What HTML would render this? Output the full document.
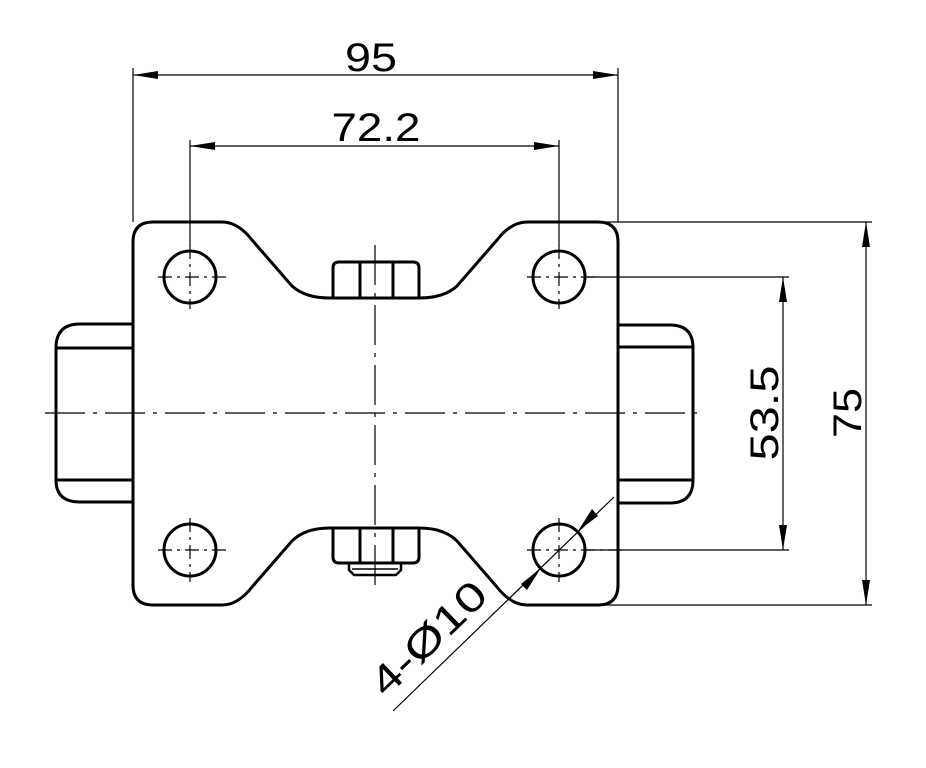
<!DOCTYPE html>
<html><head><meta charset="utf-8"><style>html,body{margin:0;padding:0;background:#fff}svg{display:block}</style></head>
<body>
<svg width="926" height="768" viewBox="0 0 926 768" xmlns="http://www.w3.org/2000/svg">
<g fill="none" stroke="#000" stroke-width="3" stroke-linejoin="round">
<!-- plate -->
<path d="M133,242 Q133,222 153,222 L222,222 Q238,222 252,240 L292,286 Q305,298 330,298 L419,298 Q444,298 457,286 L497,240 Q511,222 527,222 L598,222 Q618,222 618,242 L618,585 Q618,605 598,605 L527,605 Q511,605 497,587 L457,541 Q444,528 419,528 L330,528 Q305,528 292,541 L252,587 Q238,605 222,605 L153,605 Q133,605 133,585 Z"/>
<!-- top nut -->
<path d="M333,298 L333,268 Q333,262 339,262 L413,262 Q419,262 419,268 L419,298"/>
<line x1="360" y1="262" x2="360" y2="298"/><line x1="393" y1="262" x2="393" y2="298"/>
<!-- bottom nut -->
<path d="M333,528 L333,557 Q333,563 339,563 L413,563 Q419,563 419,557 L419,528"/>
<line x1="360" y1="528" x2="360" y2="563"/><line x1="393" y1="528" x2="393" y2="563"/>
<path d="M349,563 L349,570 L354,575 L396,575 L401,570 L401,563" stroke-width="2.5"/>
<line x1="352" y1="569" x2="398" y2="569" stroke-width="1.5"/>
<!-- holes -->
<circle cx="190" cy="277" r="26"/><circle cx="559" cy="277" r="26"/>
<circle cx="190" cy="550" r="26"/><circle cx="559" cy="550" r="26"/>
<!-- wheels -->
<path d="M133,324 L80,324 Q56,324 56,348 L56,480 Q56,502 80,502 L133,502"/>
<line x1="56" y1="348" x2="133" y2="348"/><line x1="56" y1="480" x2="133" y2="480"/>
<path d="M618,325 L670,325 Q693,325 693,348 L693,480 Q693,503 670,503 L618,503"/>
<line x1="618" y1="347" x2="693" y2="347"/><line x1="618" y1="480" x2="693" y2="480"/>
</g>
<g fill="none" stroke="#000" stroke-width="1.2">
<!-- center lines -->
<line x1="45" y1="413" x2="705" y2="413" stroke-dasharray="40,8,4,8"/>
<line x1="375" y1="245" x2="375" y2="590" stroke-dasharray="40,8,4,8"/>
<g stroke-dasharray="14,5,3,5">
<line x1="158" y1="277" x2="226" y2="277"/><line x1="190" y1="245" x2="190" y2="309"/>
<line x1="527" y1="277" x2="595" y2="277"/><line x1="559" y1="245" x2="559" y2="309"/>
<line x1="158" y1="550" x2="226" y2="550"/><line x1="190" y1="518" x2="190" y2="582"/>
<line x1="527" y1="550" x2="625" y2="550"/><line x1="559" y1="518" x2="559" y2="582"/>
</g>
<!-- extension lines -->
<line x1="133" y1="68" x2="133" y2="222"/><line x1="618" y1="68" x2="618" y2="222"/>
<line x1="190" y1="140" x2="190" y2="246"/><line x1="559" y1="140" x2="559" y2="246"/>
<line x1="600" y1="222" x2="872" y2="222"/><line x1="600" y1="605" x2="872" y2="605"/>
<line x1="585" y1="277" x2="789" y2="277"/><line x1="585" y1="550" x2="789" y2="550"/>
<!-- dim lines -->
<line x1="133" y1="75" x2="618" y2="75"/>
<line x1="190" y1="146" x2="559" y2="146"/>
<line x1="866" y1="222" x2="866" y2="605"/>
<line x1="783" y1="277" x2="783" y2="550"/>
<line x1="614" y1="497" x2="393" y2="711"/>
</g>
<g fill="#000">
<polygon points="133,75 158,71 158,79"/><polygon points="618,75 593,71 593,79"/>
<polygon points="190,146 215,142 215,150"/><polygon points="559,146 534,142 534,150"/>
<polygon points="866,222 862,247 870,247"/><polygon points="866,605 862,580 870,580"/>
<polygon points="783,277 779,302 787,302"/><polygon points="783,550 779,525 787,525"/>
<polygon points="578,531 592,509 598,516"/>
<polygon points="541,568 521,584 527,590"/>
</g>
<g font-family="Liberation Sans, sans-serif" font-size="40" fill="#000">
<text x="371" y="71" text-anchor="middle" textLength="52" lengthAdjust="spacingAndGlyphs">95</text>
<text x="376" y="141" text-anchor="middle" textLength="89" lengthAdjust="spacingAndGlyphs">72.2</text>
<text transform="translate(861,413) rotate(-90)" text-anchor="middle" textLength="50" lengthAdjust="spacingAndGlyphs">75</text>
<text transform="translate(778,413) rotate(-90)" text-anchor="middle" textLength="95" lengthAdjust="spacingAndGlyphs">53.5</text>
<text transform="translate(438,648) rotate(-44)" text-anchor="middle" textLength="145" lengthAdjust="spacingAndGlyphs">4-Ø10</text>
</g>
</svg>
</body></html>
